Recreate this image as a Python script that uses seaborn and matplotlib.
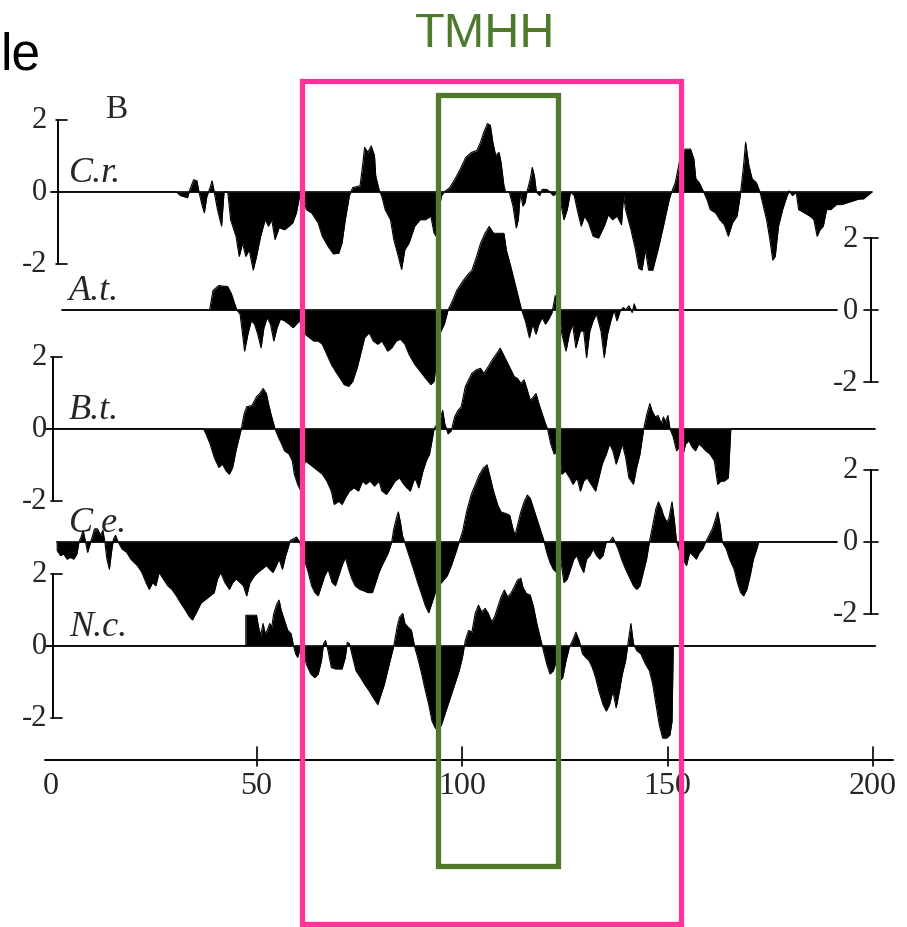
import numpy as np
import pandas as pd
import matplotlib.pyplot as plt
import seaborn as sns
from matplotlib.patches import Rectangle

# hydropathy profiles: residue position / hydropathy value
cr_res = [0, 30.5, 31.5, 33.2, 33.8, 34.7, 35.5, 36, 36.8, 37.3, 37.9, 38.7, 39.2, 39.7, 40.5, 41.5, 42.1, 43,
          43.7, 45, 45.8, 46.6, 47.4, 48.2, 49.2, 50, 51, 52.1, 52.9, 53.7, 54.5, 55.5, 56.8, 57.9, 58.8, 59.7,
          60.5, 61.2, 62.1, 63.4, 65, 66, 67.4, 68.7, 70, 70.8, 71.6, 72.6, 73.4, 75.2, 75.9, 76.3, 77.1, 77.9,
          78.7, 79, 79.8, 80.5, 81.3, 82.6, 83.4, 84.5, 85.3, 86.1, 87.1, 88.5, 89.8, 91.1, 92.4, 93.2, 93.7,
          94.4, 95, 95.7, 97, 98.3, 99.6, 100.9, 102.3, 103.6, 104.5, 105.3, 106.2, 106.9, 107.5, 108.2, 109,
          109.5, 110.2, 110.6, 111.5, 112.4, 113.2, 113.7, 114.2, 114.8, 115.3, 115.8, 116.6, 117.1, 117.6,
          118.1, 118.9, 119.5, 120.6, 121.4, 122.2, 123.4, 124, 124.8, 125.6, 126.4, 127.3, 128.2, 129, 129.8,
          130.8, 131.9, 133.2, 134.6, 135.6, 136.6, 137.7, 138.8, 139.3, 139.8, 141.1, 142.2, 143, 143.8,
          144.6, 145.4, 146.4, 147.7, 149, 150.4, 151, 151.9, 153.2, 154.3, 155.6, 156.4, 156.9, 157.7, 158.8,
          159.6, 160.4, 161.7, 162.7, 163.8, 164.8, 165.8, 166.9, 167.7, 168.5, 169, 169.8, 170.6, 171.6,
          172.5, 173.3, 174.1, 174.9, 175.6, 176.2, 177, 178, 179.1, 179.6, 180.4, 181.3, 181.9, 183.3, 184.6,
          185.6, 186.4, 187.1, 187.9, 188.7, 189.7, 191.1, 192.4, 193.7, 195.1, 196.4, 197.7, 199, 199.7]
cr_val = [0, 0, -0.1, -0.16, 0.07, 0.34, 0.31, 0, -0.39, -0.58, -0.13, 0.12, 0.31, 0, -0.49, -0.95, 0, 0,
          -0.77, -1.23, -1.79, -1.42, -1.79, -1.6, -2.17, -1.79, -1.23, -0.77, -0.95, -0.77, -1.32, -0.99, -1.05,
          -0.95, -0.86, -0.58, -0.1, 0, -0.49, -0.58, -0.86, -1.23, -1.51, -1.72, -1.7, -1.42, -0.77, -0.1,
          0.12, 0.17, 0.82, 1.24, 1.1, 1.28, 1.01, 0.45, 0.07, -0.13, -0.49, -0.77, -1.32, -1.79, -2.15, -1.6,
          -1.42, -0.95, -0.77, -0.77, -0.67, -1.14, -1.23, -0.49, -0.1, 0, 0.12, 0.36, 0.64, 0.96, 1.1, 1.15,
          1.38, 1.66, 1.9, 1.85, 1.38, 1.01, 1.1, 0.82, 0.17, 0, 0, -0.39, -1.0, -0.77, 0, -0.39, -0.3, 0,
          0.36, 0.68, 0.45, 0, -0.1, 0.07, 0.07, 0, -0.1, 0, -0.3, -0.77, -0.49, 0, -0.1, -0.58, -0.95, -0.67,
          -0.86, -1.23, -1.28, -0.95, -0.63, -0.77, -0.67, -0.91, -0.1, -0.49, -1.05, -1.6, -2.12, -2.17,
          -1.6, -2.17, -2.17, -1.6, -0.95, -0.21, 0, 0.26, 1.01, 1.19, 1.19, 0.92, 0.36, 0.26, 0, -0.21, -0.49,
          -0.58, -0.77, -0.91, -1.23, -0.86, -0.67, -0.1, 0.73, 1.38, 0.73, 0.36, 0.26, 0, -0.39, -0.77, -1.32,
          -1.89, -1.79, -0.95, -0.49, -0.1, 0.03, -0.1, 0, -0.49, -0.58, -0.67, -0.77, -1.23, -1.05, -0.95,
          -0.49, -0.49, -0.35, -0.35, -0.3, -0.25, -0.2, -0.19, -0.07, 0]

at_res = [2.7, 38.6, 39.4, 40.8, 43, 43.9, 44.7, 45.2, 46, 46.6, 47.1, 47.9, 48.7, 49.5, 50.3, 51.1, 51.8,
          52.6, 53.4, 54.2, 55, 55.8, 56.8, 57.9, 58.9, 59.7, 60.5, 61.8, 62.9, 63.9, 65, 66, 67.1, 68.2, 69.2,
          70.3, 71.3, 72.4, 73.4, 74.5, 75.5, 76.3, 77.4, 78.4, 79.5, 80.5, 81.9, 82.9, 84, 85, 86.1, 87.1,
          88.5, 89.8, 91.1, 92.4, 93.2, 93.7, 94.5, 95.7, 96.6, 97.7, 98.7, 100.3, 101.6, 102.4, 103.5, 104.5,
          105.6, 106.6, 107.7, 108.9, 110.2, 110.8, 111.9, 112.9, 113.7, 114.5, 115.4, 116.4, 117.2, 118,
          118.7, 119.5, 120.3, 121.1, 121.9, 122.7, 123.4, 124.3, 125.3, 126.1, 126.9, 127.7, 128.8, 129.6,
          130.3, 131.1, 131.9, 132.7, 133.8, 134.6, 135.4, 136.2, 137, 137.7, 138.5, 139.3, 139.8, 140.6,
          141.4, 141.9, 142.4, 191.2]
at_val = [0, 0, 0.54, 0.68, 0.65, 0.45, 0.17, 0, -0.11, -0.67, -1.14, -0.67, -0.3, -0.39, -0.67, -1.05,
          -0.49, -0.21, -0.39, -0.86, -0.49, -0.25, -0.3, -0.39, -0.49, -0.39, -0.3, -0.67, -0.77, -0.86,
          -0.86, -0.95, -1.23, -1.51, -1.7, -1.89, -2.07, -2.12, -1.98, -1.6, -1.14, -0.77, -0.63, -0.86,
          -0.95, -0.86, -1.14, -1.05, -0.86, -0.81, -0.95, -1.23, -1.51, -1.7, -1.89, -2.07, -1.98, -1.51,
          -0.67, -0.39, 0, 0.26, 0.54, 0.82, 1.01, 1.1, 1.47, 1.85, 2.13, 2.32, 2.13, 2.13, 2.13, 1.66, 1.19,
          0.73, 0.36, 0, -0.3, -0.77, -0.39, -0.67, -0.39, -0.21, -0.39, -0.25, -0.07, 0.4, 0, -0.67, -1.14,
          -0.67, -0.39, -1.05, -0.58, -0.58, -1.32, -0.58, -0.3, -0.11, -0.58, -1.32, -0.67, -0.3, 0, -0.3,
          -0.02, 0.07, 0, 0.12, -0.07, 0.17, 0, 0]

bt_res = [-1.3, 37.1, 37.7, 38.7, 39.7, 40.8, 41.7, 42.6, 43.4, 44.2, 45, 45.8, 46.3, 47, 47.6, 48.9, 50,
          50.8, 51.6, 52.4, 52.9, 53.7, 54.5, 55.3, 56.1, 56.8, 57.9, 58.7, 59.2, 60, 60.8, 61.8, 62.9, 63.9,
          65, 66, 67.1, 68.2, 68.9, 70, 70.8, 71.6, 72.6, 73.7, 74.8, 75.8, 76.6, 77.6, 78.7, 79.8, 80.5, 81.6,
          82.7, 83.7, 84.8, 85.8, 86.6, 87.4, 88.5, 89.5, 90.5, 91.3, 92.1, 92.7, 93.2, 94, 94.8, 95.3, 95.8,
          96.6, 97.4, 98.2, 99, 99.8, 100.8, 101.6, 102.4, 103.5, 104.5, 105.3, 106.4, 107.4, 108.5, 109.3,
          110.3, 111.1, 111.9, 112.7, 113.5, 114.3, 115.1, 115.9, 116.6, 117.4, 118, 118.7, 119.5, 120.3,
          120.8, 121.6, 122.4, 123.4, 124.3, 125.1, 126.2, 127, 128, 128.8, 129.6, 130.4, 131.4, 132.5, 133.3,
          134.1, 135.1, 135.9, 136.7, 137.5, 138.3, 139, 139.8, 140.6, 141.7, 142.5, 143.3, 144.2, 145, 145.7,
          146.2, 147, 147.7, 148.5, 149, 149.5, 150.1, 150.6, 151.4, 152.2, 152.8, 153.6, 154.4, 155.2, 156,
          156.8, 157.6, 158.5, 159.3, 160.3, 161.4, 162.2, 163, 163.8, 164.8, 165.4, 200.4]
bt_val = [0, 0, -0.14, -0.42, -0.79, -1.07, -0.98, -1.17, -1.26, -1.07, -0.61, -0.23, 0, 0.42, 0.61, 0.65,
          0.89, 0.98, 1.12, 0.98, 0.7, 0.33, 0, -0.23, -0.42, -0.61, -0.7, -0.89, -1.26, -1.54, -1.73, -0.89,
          -0.98, -1.07, -1.17, -1.26, -1.45, -1.73, -2.1, -2.01, -2.1, -1.92, -1.73, -1.64, -1.73, -1.45, -1.54,
          -1.45, -1.59, -1.45, -1.73, -1.82, -1.64, -1.45, -1.36, -1.54, -1.64, -1.73, -1.36, -1.64, -1.17,
          -0.89, -0.7, -0.33, 0, 0.14, 0.33, 0.51, 0.14, -0.14, -0.05, 0.33, 0.51, 0.61, 1.17, 1.36, 1.54,
          1.64, 1.68, 1.54, 1.73, 1.92, 2.1, 2.24, 2.01, 1.82, 1.64, 1.45, 1.4, 1.26, 1.36, 1.07, 0.79, 0.89,
          0.98, 0.7, 0.42, 0.14, 0, -0.42, -0.7, -0.61, -1.26, -1.17, -1.36, -1.54, -1.36, -1.73, -1.45, -1.36,
          -1.54, -1.73, -1.36, -0.98, -0.7, -0.42, -0.61, -0.98, -0.7, -0.42, -0.79, -1.36, -1.54, -1.07, -0.7,
          0, 0.42, 0.7, 0.51, 0.33, 0.37, 0.14, 0.33, 0.19, 0.37, 0, -0.23, -0.61, -0.51, -0.79, -0.42, -0.33,
          -0.51, -0.61, -0.42, -0.51, -0.61, -0.7, -0.89, -1.54, -1.45, -1.45, -1.36, 0, 0]

ce_res = [1.5, 1.5, 2.3, 3.1, 3.9, 4.7, 5.5, 6.3, 6.8, 7.3, 7.8, 8.4, 8.9, 9.4, 10, 10.5, 11.3, 12.1, 12.6, 13.1,
          13.6, 14.2, 14.7, 15.2, 15.7, 16.3, 17.3, 18.4, 19.4, 20.2, 21, 22.1, 23.1, 23.9, 24.7, 25.5, 26.3,
          27.3, 28.4, 29.4, 30.5, 31.5, 32.6, 33.6, 34.4, 35.5, 36.5, 37.6, 38.7, 39.7, 40.5, 41.3, 42.3, 43.4,
          44.2, 45, 46, 46.8, 47.6, 48.4, 49.5, 50.3, 51.3, 52.4, 53.2, 54, 54.8, 55.5, 56.3, 57.1, 57.6, 58.2,
          58.9, 59.7, 60.5, 61.6, 62.6, 63.4, 64.2, 65, 65.8, 66.6, 67.4, 68.4, 69.2, 70, 70.8, 71.6, 72.4,
          73.2, 74, 75.1, 76.1, 77.1, 78.2, 79, 79.8, 80.5, 81.3, 82.1, 82.9, 83.4, 84, 84.5, 85, 85.5, 86.3,
          87.1, 88.2, 89.2, 90.3, 91.1, 91.9, 92.7, 93.5, 94.2, 95, 96.4, 97.4, 98.5, 99.3, 100.1, 101.1, 102.2,
          103.2, 104.2, 105.2, 106.1, 106.9, 107.7, 108.7, 109.5, 110.6, 111.6, 112.4, 112.9, 113.5, 114.3,
          115.1, 115.9, 116.6, 117.4, 118.2, 119, 119.8, 120.6, 121.4, 122.2, 123, 124, 124.8, 125.6, 126.4,
          127.2, 127.9, 128.8, 129.6, 130.3, 131.1, 131.9, 132.7, 133.5, 134.3, 135.1, 135.9, 136.7, 137.2,
          138, 138.8, 139.8, 140.9, 141.7, 142.5, 143.3, 144.1, 144.9, 145.6, 146.4, 147.2, 147.8, 148.5, 149,
          149.8, 150.3, 151.1, 151.7, 152.2, 153, 153.8, 154.6, 155.4, 156.2, 157, 157.8, 158.5, 159.3, 160.1,
          160.9, 161.7, 162.2, 162.8, 163.3, 164.3, 165.1, 166.2, 167, 167.8, 168.5, 169.3, 170.1, 170.9,
          171.7, 172.2, 191.2]
ce_val = [0, -0.24, -0.38, -0.34, -0.48, -0.43, -0.48, -0.34, 0, 0.13, 0.32, 0, -0.29, -0.1, 0.13, 0.32, 0.36,
          0.18, 0.32, 0, -0.48, -0.76, -0.29, 0.08, 0.18, 0, -0.2, -0.29, -0.48, -0.57, -0.66, -0.85, -1.13,
          -1.32, -1.13, -1.22, -0.85, -1.03, -1.22, -1.32, -1.5, -1.69, -1.88, -2.07, -2.17, -1.93, -1.7, -1.6,
          -1.5, -1.41, -1.03, -0.85, -1.13, -1.32, -1.13, -1.03, -1.13, -1.22, -1.5, -1.13, -0.94, -0.85, -0.76,
          -0.66, -0.76, -0.85, -0.66, -0.48, -0.76, -0.38, -0.2, 0.04, 0.08, 0.13, 0, -0.48, -0.85, -1.22,
          -1.41, -1.5, -1.22, -0.94, -0.76, -1.13, -1.22, -0.94, -0.66, -0.43, -0.76, -1.03, -1.22, -1.32,
          -1.36, -1.41, -1.41, -1.13, -0.85, -0.66, -0.48, -0.29, 0, 0.36, 0.64, 0.83, 0.55, 0.18, -0.1, -0.38,
          -0.76, -1.13, -1.5, -1.78, -1.97, -1.69, -1.41, -1.22, -1.13, -0.94, -0.66, -0.29, 0, 0.27, 0.83,
          1.3, 1.58, 1.86, 2.05, 2.14, 1.77, 1.39, 1.02, 0.83, 0.79, 0.74, 0.36, 0.18, 0.46, 0.83, 1.11, 1.3,
          1.21, 0.93, 0.64, 0.36, 0.08, -0.29, -0.57, -0.76, -0.85, -0.48, -1.13, -1.03, -0.76, -0.48, -0.38,
          -0.66, -0.85, -0.48, -0.38, -0.2, -0.38, -0.48, -0.38, 0, 0, 0.13, 0, -0.2, -0.48, -0.76, -1.03,
          -1.22, -1.32, -1.22, -0.85, -0.48, 0, 0.46, 0.93, 1.11, 0.93, 0.74, 0.55, 0.64, 1.11, 0.55, 0, -0.29,
          -0.48, -0.66, -0.29, -0.38, -0.48, -0.29, -0.2, 0, 0.18, 0.36, 0.64, 0.83, 0.46, 0, -0.2, -0.48,
          -0.76, -1.13, -1.41, -1.5, -1.32, -0.94, -0.48, -0.2, 0, 0]

nc_res = [-1.3, 47.4, 47.4, 50, 50.5, 51, 51.6, 52.1, 52.6, 53.2, 53.7, 54.2, 55, 55.5, 56, 56.8, 57.6, 58.4,
          58.9, 59.5, 60, 60.5, 61.2, 62.1, 63.2, 64.2, 65, 65.8, 66.3, 66.8, 67.4, 68.2, 69.2, 70.8, 71.6,
          72.1, 72.6, 73.4, 74.2, 75.3, 76.3, 77.4, 78.4, 79.5, 80.3, 81.1, 81.9, 82.7, 83.4, 84.2, 84.8, 85.6,
          86.1, 86.9, 87.7, 88.5, 89.2, 90, 91.1, 91.9, 92.7, 93.5, 94.2, 95, 95.8, 96.6, 97.7, 98.5, 99.3,
          100.1, 100.8, 101.6, 102.4, 103.2, 104, 104.8, 105.6, 106.4, 107.2, 107.9, 108.7, 109.5, 110.3,
          111.1, 111.9, 112.7, 113.5, 114.3, 114.8, 115.6, 116.6, 117.4, 118.2, 119, 119.8, 120.6, 121.4,
          122.2, 123, 123.8, 124.5, 125.3, 126.1, 126.9, 127.7, 128.5, 129.3, 130.1, 130.9, 131.7, 132.5,
          133.3, 134.3, 135.1, 135.9, 136.7, 137.5, 138.3, 139, 139.8, 140.6, 141.1, 141.7, 142.5, 143.5,
          144.6, 145.6, 146.4, 147.2, 148, 148.8, 149.8, 150.6, 151.1, 151.4, 200.6]
nc_val = [0, 0, 0.85, 0.85, 0.52, 0.29, 0.62, 0.34, 0.43, 0.62, 0.52, 0.9, 1.18, 1.27, 0.99, 0.71, 0.43, 0.34,
          0.06, -0.22, -0.32, -0.13, 0, -0.5, -0.78, -0.88, -0.78, -0.41, 0.06, 0.15, -0.13, -0.6, -0.64,
          -0.64, -0.32, 0.1, 0.06, -0.32, -0.69, -0.88, -1.07, -1.25, -1.44, -1.63, -1.35, -1.07, -0.69, -0.32,
          0, 0.52, 0.8, 0.9, 0.62, 0.52, 0.43, -0.04, -0.32, -0.69, -1.25, -1.63, -2.09, -2.28, -2.37, -2.19,
          -1.91, -1.63, -1.25, -0.97, -0.69, -0.32, 0.15, 0.43, 0.38, 0.9, 1.13, 0.94, 1.04, 0.9, 0.67, 0.8,
          1.08, 1.36, 1.55, 1.36, 1.46, 1.64, 1.83, 1.88, 1.64, 1.46, 1.41, 1.08, 0.62, 0.24, -0.13, -0.5,
          -0.78, -0.69, -0.41, -0.97, -0.88, -0.41, -0.04, 0.15, 0.38, 0.15, -0.22, -0.32, -0.41, -0.6, -0.88,
          -1.25, -1.63, -1.81, -1.63, -1.25, -1.72, -1.25, -0.78, -0.41, 0.24, 0.62, 0.06, -0.13, -0.22, -0.5,
          -0.69, -1.07, -1.63, -2.19, -2.56, -2.56, -2.47, -2.09, 0, 0]

species = ['C.r.', 'A.t.', 'B.t.', 'C.e.', 'N.c.']
axis_ticks = [2, 0, -2]
x_ticks = [0, 50, 100, 150, 200]

# layout (vertical offset of each track, which side its scale is on)
offsets = [0, -3.28, -6.58, -9.72, -12.61]
sides = ['left', 'right', 'left', 'right', 'left']
profiles = [(cr_res, cr_val), (at_res, at_val), (bt_res, bt_val), (ce_res, ce_val), (nc_res, nc_val)]
xaxis_y = -15.78

pink = '#ff3399'
green = '#507a2b'
serif = ['Liberation Serif', 'DejaVu Serif']
sans = ['Liberation Sans', 'DejaVu Sans']

sns.set_theme(style='white')
fig = plt.figure(figsize=(9.07, 9.28), dpi=100)
ax = fig.add_axes([0, 0, 1, 1])
ax.set_xlim(-12.41, 208.27)
ax.set_ylim(-20.42, 5.36)
ax.axis('off')

for name, off, side, (res, val) in zip(species, offsets, sides, profiles):
    res = np.array(res)
    y = np.array(val) + off
    ax.fill_between(res, off, y, color='black', lw=0)
    df = pd.DataFrame({'res': res, 'y': y})
    sns.lineplot(data=df, x='res', y='y', color='black', lw=0.8, ax=ax,
                 estimator=None, sort=False)
    # baseline and scale bar
    if side == 'left':
        ax_x = 1.7 if name == 'C.r.' else 0.5
        ax.plot([ax_x - 1.8, res[-1]], [off, off], color='black', lw=1.2)
        ax.plot([ax_x, ax_x], [off - 2, off + 2], color='black', lw=1.4)
        for t in (2, -2):
            ax.plot([ax_x - 0.5, ax_x + 2.2], [off + t, off + t], color='black', lw=1.2)
        for t in axis_ticks:
            ax.text(-1.0, off + t, f'{t}', ha='right', va='center',
                    fontsize=22, family=serif)
    else:
        ax_x = 199.5
        ax.plot([res[0], res[-1]], [off, off], color='black', lw=1.2)
        ax.plot([ax_x, ax_x], [off - 2, off + 2], color='black', lw=1.4)
        for t in axis_ticks:
            ax.plot([ax_x - 1.8, ax_x + 1.8], [off + t, off + t], color='black', lw=1.2)
            ax.text(196.4, off + t, f'{t}', ha='right', va='center',
                    fontsize=22, family=serif)
    ax.text(4.4, off + 0.3, name, ha='left', va='baseline', fontsize=26,
            style='italic', family=serif)

# residue axis
ax.plot([-1.5, 204.9], [xaxis_y, xaxis_y], color='black', lw=1.4)
for t in x_ticks:
    if t > 0:
        ax.plot([t, t], [xaxis_y - 0.17, xaxis_y + 0.36], color='black', lw=1.2)
    ax.text(t, xaxis_y - 0.72, str(t), ha='center', va='center', fontsize=23, family=serif)

ax.text(13.1, 2.08, 'B', ha='left', va='baseline', fontsize=24, family=serif)

# highlighted regions
ax.add_patch(Rectangle((61.1, -20.33), 153.3 - 61.1, 3.08 + 20.33, fill=False,
                       edgecolor=pink, lw=3.8, zorder=5))
ax.add_patch(Rectangle((94.2, -18.72), 123.4 - 94.2, 2.69 + 18.72, fill=False,
                       edgecolor=green, lw=3.8, zorder=6))
ax.text(105.6, 4.06, 'TMHH', ha='center', va='baseline', fontsize=35, color=green, family=sans)
ax.text(-12.35, 3.42, 'le', ha='left', va='baseline', fontsize=37, color='black', family=sans)

fig.savefig('out.png', dpi=100)
